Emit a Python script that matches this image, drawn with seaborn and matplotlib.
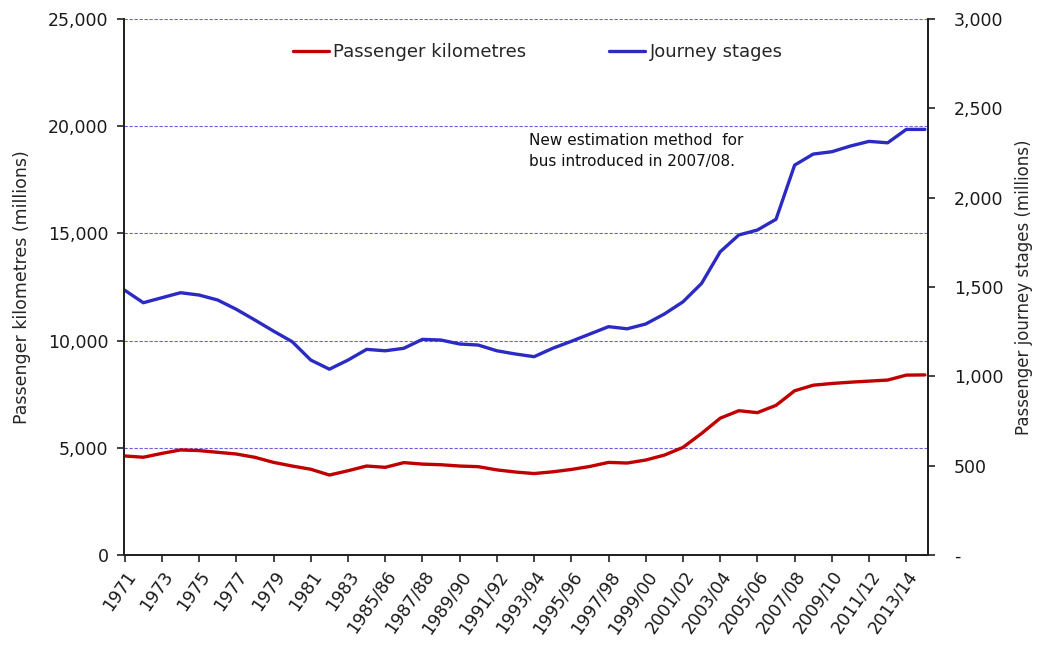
import pandas as pd
import matplotlib
matplotlib.use("Agg")
import matplotlib.pyplot as plt
import seaborn as sns

# category labels: calendar years to 1984, financial years after
years = [str(y) for y in range(1971, 1985)]
fin_years = [f"{y}/{str(y + 1)[-2:]}" for y in range(1985, 2015)]
periods = years + fin_years

# passenger kilometres (millions), left axis
pass_km = [4620, 4560, 4740, 4900, 4870, 4790, 4710, 4555, 4320, 4150,
           4000, 3730, 3930, 4150, 4090, 4310, 4240, 4210, 4150, 4120,
           3970, 3870, 3800, 3880, 3990, 4130, 4320, 4290, 4430, 4660,
           5020, 5670, 6380, 6730, 6640, 6980, 7660, 7920, 8000, 8060,
           8110, 8160, 8390, 8400]

# passenger journey stages (millions), right axis
journeys = [1482, 1412, 1440, 1468, 1455, 1427, 1375, 1315, 1253, 1194,
            1091, 1040, 1091, 1151, 1143, 1157, 1207, 1203, 1181, 1175,
            1143, 1125, 1110, 1157, 1196, 1237, 1278, 1266, 1293, 1349,
            1417, 1520, 1697, 1791, 1819, 1879, 2182, 2244, 2257, 2289,
            2315, 2307, 2382, 2382]

df = pd.DataFrame({"period": periods, "km": pass_km, "journeys": journeys})
df["idx"] = range(len(df))

sns.set_style("white")
plt.rcParams["font.family"] = ["DejaVu Sans"]

red = "#c00000"
blue = "#2b2bc4"

fig = plt.figure(figsize=(10.4, 6.48), dpi=100)
ax = fig.add_axes([0.119, 0.1435, 0.773, 0.8272])
ax2 = ax.twinx()

sns.lineplot(data=df, x="idx", y="km", ax=ax, color=red, linewidth=2.4,
             label="Passenger kilometres", legend=False)
sns.lineplot(data=df, x="idx", y="journeys", ax=ax2, color=blue, linewidth=2.4,
             label="Journey stages", legend=False)

ax.set_xlim(-0.05, 43.15)
ax.set_ylim(0, 25000)
ax2.set_ylim(0, 3000)

ax.set_yticks(range(0, 25001, 5000))
ax.set_yticklabels([f"{v:,}" for v in range(0, 25001, 5000)])
ax2.set_yticks(range(0, 3001, 500))
ax2.set_yticklabels(["-"] + [f"{v:,}" for v in range(500, 3001, 500)])

ax.set_xticks(df["idx"][::2])
ax.set_xticklabels(df["period"][::2], rotation=55, ha="right",
                   rotation_mode="anchor")

for v in range(5000, 25001, 5000):
    ax.axhline(v, color="#6f5fe0", linestyle=(0, (3, 1.5)), linewidth=0.8, zorder=0)

for a in (ax, ax2):
    a.spines["top"].set_visible(False)
    for s in ("left", "right", "bottom"):
        a.spines[s].set_color("#222222")
        a.spines[s].set_linewidth(1.4)
    a.tick_params(axis="both", direction="out", length=5, width=1.2,
                  color="#222222", labelsize=12.5, labelcolor="#1a1a1a")

ax.tick_params(axis="x", pad=4)
ax.tick_params(axis="y", left=True, pad=6)
ax2.tick_params(axis="y", right=True, pad=14)
ax.xaxis.set_ticks_position("bottom")

ax.set_xlabel("")
ax.set_ylabel("Passenger kilometres (millions)", fontsize=12.5, labelpad=12)
ax2.set_ylabel("Passenger journey stages (millions)", fontsize=12, labelpad=8)

ax.text(0.5036, 0.787, "New estimation method  for\nbus introduced in 2007/08.",
        transform=ax.transAxes, fontsize=11, va="top", ha="left",
        linespacing=1.5, color="#111111")

handles = ax.get_legend_handles_labels()[0] + ax2.get_legend_handles_labels()[0]
labels = ["Passenger kilometres", "Journey stages"]
ax.legend(handles, labels, loc="upper center", bbox_to_anchor=(0.515, 0.985),
          ncol=2, frameon=False, fontsize=13, handlelength=2.0,
          handletextpad=0.25, columnspacing=4.6)

fig.savefig("out.png", dpi=100, facecolor="white")
